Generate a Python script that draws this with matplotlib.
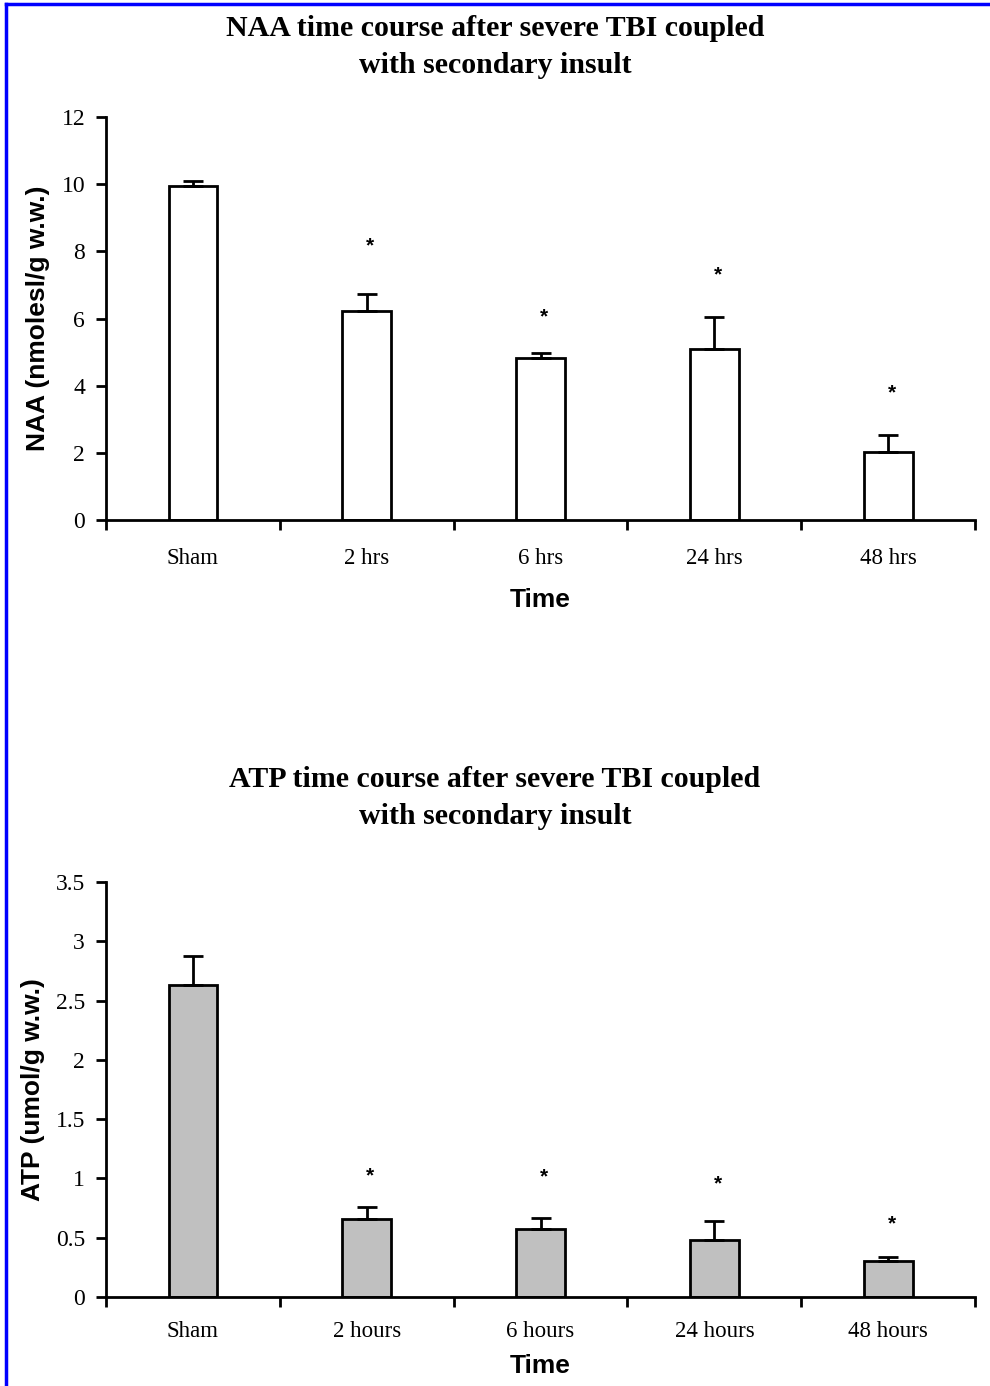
import matplotlib.pyplot as plt
from matplotlib.lines import Line2D
import numpy as np

# NAA panel
naa_labels = ["Sham", "2 hrs", "6 hrs", "24 hrs", "48 hrs"]
naa_values = [9.95, 6.22, 4.82, 5.08, 2.02]
naa_err = [0.15, 0.50, 0.15, 0.96, 0.50]
naa_star = [None, 8.15, 6.05, 7.3, 3.8]

# ATP panel
atp_labels = ["Sham", "2 hours", "6 hours", "24 hours", "48 hours"]
atp_values = [2.63, 0.66, 0.57, 0.48, 0.30]
atp_err = [0.25, 0.10, 0.10, 0.16, 0.04]
atp_star = [None, 1.02, 1.01, 0.95, 0.62]

SERIF = "Liberation Serif"
SANS = "Liberation Sans"


def draw_panel(ax, labels, values, err, stars, ylim, yticks, ylabel, face, title, title_y,
               tick_pad=20, xlabel_pad=14):
    x = np.arange(len(labels))
    ax.bar(x, values, width=0.28, color=face, edgecolor="black", linewidth=2, zorder=2)
    ax.errorbar(x, values, yerr=[np.zeros(len(err)), err], fmt="none",
                ecolor="black", elinewidth=2, capsize=7, capthick=2, zorder=3)
    for xi, s in zip(x, stars):
        if s is not None:
            ax.text(xi + 0.02, s, "*", ha="center", va="center", fontsize=15,
                    family=SANS, fontweight="bold")
    ax.set_xlim(-0.5, len(labels) - 0.5)
    ax.set_ylim(*ylim)
    ax.set_yticks(yticks)
    ax.set_yticklabels([f"{t:g}" for t in yticks], family=SERIF, fontsize=17)
    # category ticks sit on the boundaries between groups
    ax.set_xticks(np.arange(-0.5, len(labels), 1.0))
    ax.set_xticklabels([])
    ax.set_xticks(x, minor=True)
    ax.set_xticklabels(labels, minor=True, family=SERIF, fontsize=16.5)
    ax.tick_params(axis="x", which="minor", length=0, pad=tick_pad)
    ax.tick_params(axis="x", which="major", length=7, width=2, direction="out")
    ax.tick_params(axis="y", length=7, width=2, direction="out", pad=8)
    for side in ("top", "right"):
        ax.spines[side].set_visible(False)
    for side in ("left", "bottom"):
        ax.spines[side].set_linewidth(2)
    ax.set_xlabel("Time", family=SANS, fontweight="bold", fontsize=19, labelpad=xlabel_pad)
    ax.set_ylabel(ylabel, family=SANS, fontweight="bold", fontsize=19, labelpad=8)
    fig.text(0.50, title_y, title, ha="center", va="top", family=SERIF,
             fontweight="bold", fontsize=21.5, linespacing=1.5)


fig = plt.figure(figsize=(9.9, 13.86), dpi=100)

ax1 = fig.add_axes([0.107, 0.6248, 0.878, 0.2908])
draw_panel(ax1, naa_labels, naa_values, naa_err, naa_star, (0, 12), range(0, 13, 2),
           "NAA (nmolesl/g w.w.)", "white",
           "NAA time course after severe TBI coupled\nwith secondary insult", 0.9895)

ax2 = fig.add_axes([0.107, 0.0642, 0.878, 0.2994])
draw_panel(ax2, atp_labels, atp_values, atp_err, atp_star, (0, 3.5),
           [0, 0.5, 1, 1.5, 2, 2.5, 3, 3.5],
           "ATP (umol/g w.w.)", "#c0c0c0",
           "ATP time course after severe TBI coupled\nwith secondary insult", 0.4475,
           tick_pad=17, xlabel_pad=9)

# blue frame lines on top and left edge
fig.add_artist(Line2D([0.006, 1.0], [0.997, 0.997], color="blue", linewidth=2.5))
fig.add_artist(Line2D([0.006, 0.006], [0.0, 0.997], color="blue", linewidth=2.5))

fig.savefig("out.png", dpi=100)
